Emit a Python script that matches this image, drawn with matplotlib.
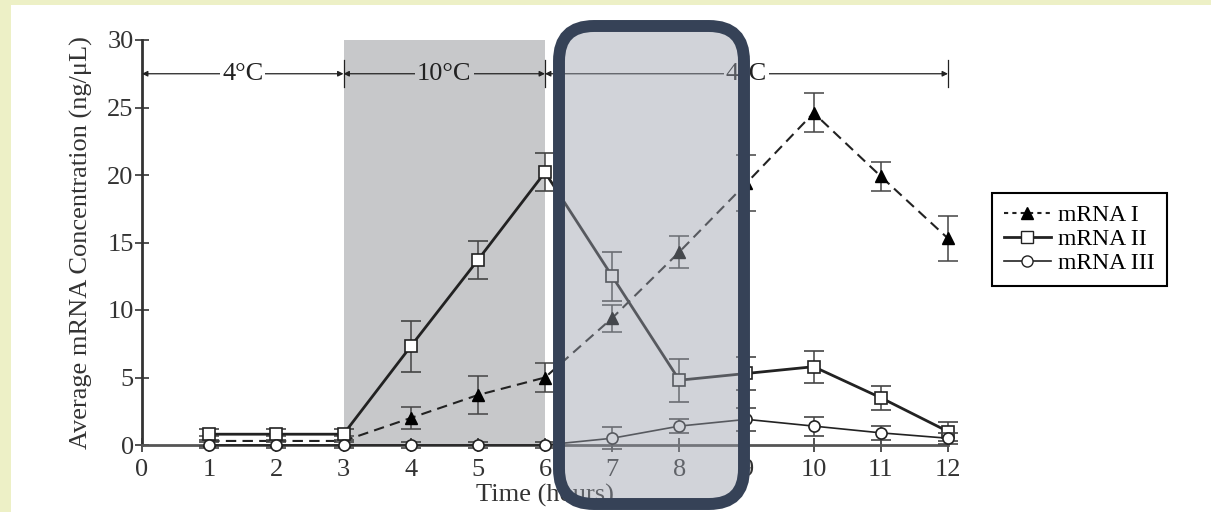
import numpy as np
import matplotlib.pyplot as plt
from matplotlib.patches import FancyBboxPatch, Rectangle
from matplotlib.lines import Line2D

plt.rcParams['font.family'] = ['Liberation Serif', 'DejaVu Serif']

# data
hours = np.arange(1, 13)
mrna1 = [0.3, 0.3, 0.3, 2.0, 3.7, 5.0, 9.4, 14.3, 19.4, 24.6, 19.9, 15.3]
mrna1_err = [0.4, 0.4, 0.4, 0.8, 1.4, 1.1, 1.0, 1.2, 2.1, 1.45, 1.05, 1.7]
mrna2 = [0.8, 0.8, 0.8, 7.3, 13.7, 20.2, 12.5, 4.8, 5.3, 5.8, 3.5, 1.0]
mrna2_err = [0.4, 0.4, 0.4, 1.9, 1.4, 1.4, 1.8, 1.6, 1.25, 1.2, 0.9, 0.7]
mrna3 = [0.0, 0.0, 0.0, 0.0, 0.0, 0.0, 0.5, 1.4, 1.9, 1.4, 0.9, 0.5]
mrna3_err = [0.2, 0.2, 0.2, 0.2, 0.2, 0.2, 0.8, 0.5, 0.85, 0.7, 0.5, 0.4]
periods = [(0, 3, '4°C'), (3, 6, '10°C'), (6, 12, '4°C')]
warm = (3, 6)

fig = plt.figure(figsize=(12.11, 5.12), dpi=100)
fig.patch.set_facecolor('#edf0c6')
fig.patches.append(Rectangle((11 / 1211, 0), 1, 1 - 5 / 512, transform=fig.transFigure,
                             facecolor='white', edgecolor='none', zorder=-5))

ax = fig.add_axes([142 / 1211, 1 - 445 / 512, 806 / 1211, 405 / 512])
ax.set_facecolor('none')
ax.set_xlim(0, 12)
ax.set_ylim(0, 30)
ax.axvspan(warm[0], warm[1], color='#c7c8ca', zorder=0, lw=0)

ink = '#222222'
fs = 19
ebkw = dict(ecolor='#444444', elinewidth=1.1, capsize=7, capthick=1.1, clip_on=False)
ax.errorbar(hours, mrna1, yerr=mrna1_err, color=ink, lw=1.5, dashes=(5, 3), marker='^',
            ms=9, mfc='black', mec='black', zorder=3, **ebkw)
ax.errorbar(hours, mrna2, yerr=mrna2_err, color=ink, lw=2.0, marker='s', ms=8,
            mfc='white', mec=ink, mew=1.2, zorder=4, **ebkw)
ax.errorbar(hours, mrna3, yerr=mrna3_err, color=ink, lw=1.2, marker='o', ms=8,
            mfc='white', mec=ink, mew=1.2, zorder=5, **ebkw)

# temperature arrows
ya = 27.5
for x0, x1, lab in periods:
    ax.annotate('', xy=(x0, ya), xytext=(x1, ya),
                arrowprops=dict(arrowstyle='<|-|>', color=ink, lw=0.9, mutation_scale=8,
                                shrinkA=0, shrinkB=0))
    bg = '#c7c8ca' if warm[0] <= (x0 + x1) / 2 <= warm[1] else 'white'
    ax.text((x0 + x1) / 2, ya, lab, ha='center', va='center', fontsize=fs, color=ink,
            bbox=dict(facecolor=bg, edgecolor='none', pad=1.5), zorder=3)
for xv in [3, 6, 12]:
    ax.plot([xv, xv], [ya - 1.0, ya + 1.0], color=ink, lw=0.9, clip_on=False)

for s in ['top', 'right']:
    ax.spines[s].set_visible(False)
ax.spines['left'].set_linewidth(2)
ax.spines['bottom'].set_linewidth(2)
ax.spines['left'].set_color('#333333')
ax.spines['bottom'].set_color('#555555')
ax.set_xticks(range(0, 13))
ax.set_yticks(range(0, 31, 5))
ax.tick_params(direction='inout', length=10, width=1.2, labelsize=fs, colors='#333333')
ax.tick_params(axis='x', pad=5)
ax.tick_params(axis='y', pad=1)
ax.set_xlabel('Time (hours)', fontsize=fs, color='#333333', labelpad=2)
ax.set_ylabel('Average mRNA Concentration (ng/μL)', fontsize=fs, color='#333333', labelpad=10)

handles = [
    Line2D([], [], color=ink, lw=1.5, dashes=(2, 2), marker='^', ms=9, mfc='black', mec='black'),
    Line2D([], [], color=ink, lw=2.0, marker='s', ms=8, mfc='white', mec=ink),
    Line2D([], [], color=ink, lw=1.2, marker='o', ms=8, mfc='white', mec=ink),
]
leg = fig.legend(handles, ['mRNA I', 'mRNA II', 'mRNA III'], loc='upper left',
                 bbox_to_anchor=(992 / 1211, 1 - 193 / 512), borderaxespad=0, fontsize=17,
                 fancybox=False, edgecolor='black', framealpha=1, labelspacing=0.1,
                 handlelength=2.0, handletextpad=0.3, borderpad=0.5)
leg.get_frame().set_linewidth(1.5)

# highlight box overlay
box = FancyBboxPatch((5.59 + 0.35, 0.08 + 0.35), 1.85 - 0.7, 4.78 - 0.7,
                     boxstyle='round,pad=0.35', transform=fig.dpi_scale_trans,
                     facecolor=(0.60, 0.62, 0.67, 0.45), edgecolor='#364257', lw=8.6, zorder=10)
fig.patches.append(box)

fig.savefig('out.png', dpi=100, facecolor=fig.get_facecolor())
